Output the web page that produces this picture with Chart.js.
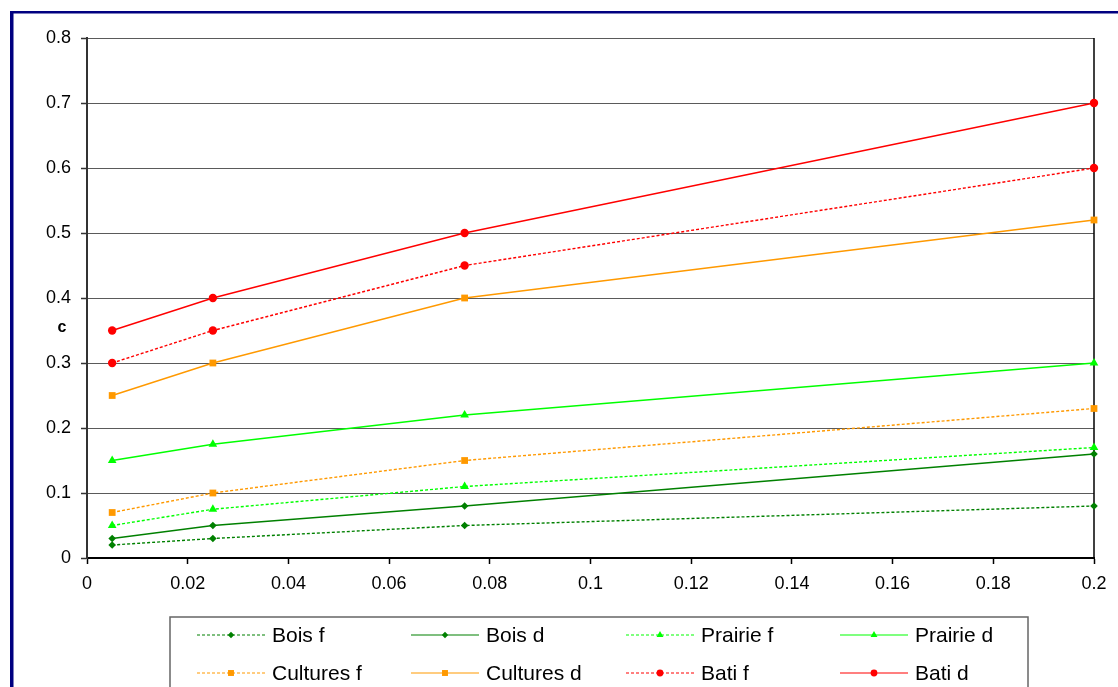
<!DOCTYPE html>
<html>
<head>
<meta charset="utf-8">
<script src="https://cdn.jsdelivr.net/npm/chart.js@4/dist/chart.umd.min.js"></script>
<style>
  html, body { margin: 0; padding: 0; background: #fff; }
  #wrap { width: 1118px; height: 687px; position: relative; }
</style>
</head>
<body>
<div id="wrap"><canvas id="chart" width="1118" height="687"></canvas></div>
<script>
// Rainfall intensity classes (x) and runoff coefficient c per land use
const xValues = [0.005, 0.025, 0.075, 0.2];

const boisF     = [0.02, 0.03, 0.05, 0.08];
const boisD     = [0.03, 0.05, 0.08, 0.16];
const prairieF  = [0.05, 0.075, 0.11, 0.17];
const prairieD  = [0.15, 0.175, 0.22, 0.30];
const culturesF = [0.07, 0.10, 0.15, 0.23];
const culturesD = [0.25, 0.30, 0.40, 0.52];
const batiF     = [0.30, 0.35, 0.45, 0.60];
const batiD     = [0.35, 0.40, 0.50, 0.70];

const seriesLabels = ['Bois f', 'Bois d', 'Prairie f', 'Prairie d',
                      'Cultures f', 'Cultures d', 'Bati f', 'Bati d'];
const seriesValues = [boisF, boisD, prairieF, prairieD, culturesF, culturesD, batiF, batiD];

const yAxisTitle = 'c';
const xMin = 0, xMax = 0.2, xStep = 0.02;
const yMin = 0, yMax = 0.8, yStep = 0.1;

const DARK_GREEN = '#008000';
const LIME = '#00FF00';
const ORANGE = '#FF9900';
const RED = '#FF0000';

const styles = [
  { color: DARK_GREEN, dash: [3, 2], point: 'rectRot',  r: 3.8, lr: 3.2 },
  { color: DARK_GREEN, dash: [],     point: 'rectRot',  r: 3.8, lr: 3.2 },
  { color: LIME,       dash: [3, 2], point: 'triangle', r: 5,   lr: 4 },
  { color: LIME,       dash: [],     point: 'triangle', r: 5,   lr: 4 },
  { color: ORANGE,     dash: [3, 2], point: 'rect',     r: 4.8, lr: 4.2 },
  { color: ORANGE,     dash: [],     point: 'rect',     r: 4.8, lr: 4.2 },
  { color: RED,        dash: [3, 2], point: 'circle',   r: 4.2, lr: 3.4 },
  { color: RED,        dash: [],     point: 'circle',   r: 4.2, lr: 3.4 }
];

const datasets = seriesValues.map((vals, i) => ({
  label: seriesLabels[i],
  data: vals.map((v, k) => ({ x: xValues[k], y: v })),
  borderColor: styles[i].color,
  backgroundColor: styles[i].color,
  borderWidth: 1.4,
  borderDash: styles[i].dash,
  pointStyle: styles[i].point,
  pointRadius: styles[i].r,
  legendRadius: styles[i].lr,
  pointBorderWidth: 0,
  pointBackgroundColor: styles[i].color,
  showLine: true,
  tension: 0,
  clip: false
}));

const fmt = v => String(Number(v.toFixed(3)));
const FONT = '"Liberation Sans", Arial, sans-serif';

// Outer frame of the chart sheet
const framePlugin = {
  id: 'frame',
  beforeDraw(chart) {
    const ctx = chart.ctx;
    ctx.save();
    ctx.fillStyle = '#000080';
    ctx.fillRect(10, 11, 3.5, 700);
    ctx.fillRect(10, 11, 1200, 2.5);
    ctx.restore();
  }
};

// Right edge of the plot area and the vertical axis title
const plotBorderPlugin = {
  id: 'plotBorder',
  beforeDatasetsDraw(chart) {
    const { ctx, chartArea: a } = chart;
    ctx.save();
    ctx.strokeStyle = '#000';
    ctx.lineWidth = 1.5;
    ctx.beginPath();
    ctx.moveTo(a.right, a.top);
    ctx.lineTo(a.right, a.bottom);
    ctx.stroke();

    ctx.fillStyle = '#000';
    ctx.font = 'bold 16px ' + FONT;
    ctx.textAlign = 'center';
    ctx.textBaseline = 'middle';
    ctx.fillText(yAxisTitle, 62, 328);
    ctx.restore();
  }
};

// Legend box with four columns and two rows
const boxLegendPlugin = {
  id: 'boxLegend',
  afterDraw(chart) {
    const ctx = chart.ctx;
    const box = { left: 170, top: 617, right: 1028, bottom: 720 };
    const colX = [197, 411, 626, 840];
    const rowY = [635, 673];
    const sampleW = 68;
    ctx.save();
    ctx.fillStyle = '#fff';
    ctx.fillRect(box.left, box.top, box.right - box.left, box.bottom - box.top);
    ctx.strokeStyle = '#666';
    ctx.lineWidth = 1.5;
    ctx.strokeRect(box.left, box.top, box.right - box.left, box.bottom - box.top);
    chart.data.datasets.forEach((ds, i) => {
      const x0 = colX[i % 4];
      const y = rowY[Math.floor(i / 4)];
      ctx.strokeStyle = ds.borderColor;
      ctx.lineWidth = 1.2;
      ctx.setLineDash(ds.borderDash);
      ctx.beginPath();
      ctx.moveTo(x0, y);
      ctx.lineTo(x0 + sampleW, y);
      ctx.stroke();
      ctx.setLineDash([]);
      ctx.fillStyle = ds.borderColor;
      Chart.helpers.drawPoint(ctx, {
        pointStyle: ds.pointStyle,
        radius: ds.legendRadius,
        rotation: 0,
        borderWidth: 0
      }, x0 + sampleW / 2, y);
      ctx.fillStyle = '#000';
      ctx.font = '21px ' + FONT;
      ctx.textBaseline = 'middle';
      ctx.textAlign = 'left';
      ctx.fillText(ds.label, x0 + sampleW + 7, y + 1);
    });
    ctx.restore();
  }
};

new Chart(document.getElementById('chart'), {
  type: 'scatter',
  data: { datasets },
  options: {
    responsive: false,
    animation: false,
    devicePixelRatio: 1,
    layout: { padding: { left: 14, right: 24, top: 38, bottom: 0 } },
    plugins: {
      legend: { display: false },
      tooltip: { enabled: false }
    },
    scales: {
      x: {
        type: 'linear',
        min: xMin, max: xMax,
        afterFit: s => { s.height = 129; },
        afterBuildTicks: s => {
          const t = [];
          for (let v = xMin; v <= xMax + 1e-9; v += xStep) t.push({ value: Number(v.toFixed(3)) });
          s.ticks = t;
        },
        ticks: {
          callback: v => fmt(v),
          color: '#000',
          font: { family: FONT, size: 18 },
          padding: 9,
          maxRotation: 0,
          autoSkip: false
        },
        grid: {
          drawOnChartArea: false,
          drawTicks: true,
          tickLength: 6,
          tickColor: '#000',
          tickWidth: 1.5
        },
        border: { display: true, color: '#000', width: 2 }
      },
      y: {
        type: 'linear',
        min: yMin, max: yMax,
        afterFit: s => { s.width = 73; },
        afterBuildTicks: s => {
          const t = [];
          for (let v = yMin; v <= yMax + 1e-9; v += yStep) t.push({ value: Number(v.toFixed(3)) });
          s.ticks = t;
        },
        ticks: {
          callback: v => fmt(v),
          color: '#000',
          font: { family: FONT, size: 18 },
          padding: 10,
          autoSkip: false
        },
        grid: {
          color: ctx => ctx.tick && ctx.tick.value === 0 ? 'rgba(0,0,0,0)' : 'rgba(20,20,20,0.7)',
          lineWidth: 1,
          borderDash: [1, 1],
          drawTicks: true,
          tickLength: 6,
          tickColor: '#333',
          tickWidth: 1.5,
          tickBorderDash: []
        },
        border: { display: true, color: '#333', width: 2 }
      }
    }
  },
  plugins: [framePlugin, plotBorderPlugin, boxLegendPlugin]
});
</script>
</body>
</html>
